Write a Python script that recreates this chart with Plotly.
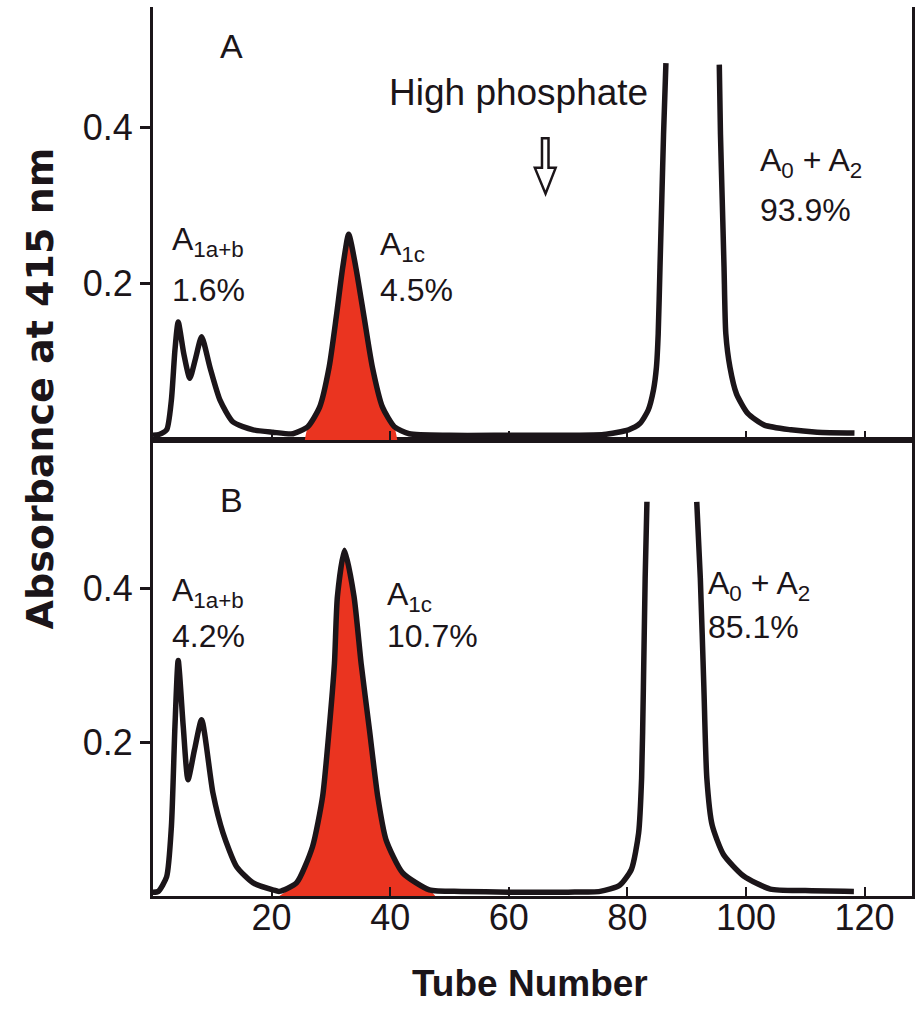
import plotly.graph_objects as go

# ---------------- data ----------------
# Panel A (normal)
tube_a = [0, 1, 2.3, 3.1, 3.7, 4.25, 5.2, 6.2, 7.2, 8.2, 9.6, 11.3, 13.5, 16.9, 20.2, 23.6,
          26.1, 28.1, 29.7, 30.9, 32.0, 33.0, 34.2, 35.6, 37.0, 38.7, 40.7, 43.2, 50, 60, 70, 76,
          80.2, 82.1, 83.5, 84.4, 84.9, 85.2, 85.5, 85.8, 86.1, 86.5, None,
          95.5, 95.7, 96.0, 96.3, 96.6, 97.3, 98.4, 100.3, 103.1, 107.6, 112, 118.3]
abs_a = [0.006, 0.007, 0.013, 0.051, 0.115, 0.151, 0.110, 0.079, 0.105, 0.132, 0.093, 0.051, 0.023, 0.013, 0.010, 0.008,
         0.017, 0.042, 0.093, 0.157, 0.221, 0.263, 0.221, 0.157, 0.093, 0.042, 0.017, 0.008, 0.006, 0.006, 0.006, 0.007,
         0.013, 0.021, 0.038, 0.064, 0.093, 0.136, 0.221, 0.306, 0.391, 0.482, None,
         0.480, 0.391, 0.306, 0.221, 0.136, 0.093, 0.059, 0.034, 0.019, 0.013, 0.010, 0.009]
# A1c shaded region, panel A
a1c_tube_a = [25.6, 26.1, 28.1, 29.7, 30.9, 32.0, 33.0, 34.2, 35.6, 37.0, 38.7, 40.7, 41.2]
a1c_abs_a = [0.0, 0.017, 0.042, 0.093, 0.157, 0.221, 0.263, 0.221, 0.157, 0.093, 0.042, 0.017, 0.0]

# Panel B (diabetic)
tube_b = [0, 0.9, 2.3, 3.1, 3.7, 4.25, 5.1, 5.9, 7.0, 8.2, 10.1, 11.8, 14.1, 16.9, 20.2, 21.3,
          24.2, 26.9, 28.6, 29.7, 30.6, 31.1, 32.3, 33.9, 35.1, 36.5, 37.9, 39.3, 42.1, 46.6, 52, 60, 70,
          75.4, 78.7, 80.7, 81.9, 82.4, 82.7, 83.0, 83.3, None,
          91.7, 92.3, 92.9, 93.4, 94.3, 96.2, 99.6, 104.1, 110, 118.2]
abs_b = [0.005, 0.006, 0.025, 0.090, 0.220, 0.306, 0.220, 0.151, 0.190, 0.229, 0.134, 0.082, 0.038, 0.017, 0.008, 0.006,
         0.017, 0.064, 0.129, 0.216, 0.302, 0.389, 0.449, 0.389, 0.302, 0.216, 0.129, 0.073, 0.030, 0.008, 0.006, 0.005, 0.005,
         0.006, 0.014, 0.035, 0.082, 0.153, 0.271, 0.413, 0.512, None,
         0.512, 0.413, 0.271, 0.153, 0.092, 0.054, 0.026, 0.009, 0.007, 0.006]
a1c_tube_b = [21.3, 24.2, 26.9, 28.6, 29.7, 30.6, 31.1, 32.3, 33.9, 35.1, 36.5, 37.9, 39.3, 42.1, 46.6, 47.6]
a1c_abs_b = [0.0, 0.017, 0.064, 0.129, 0.216, 0.302, 0.389, 0.449, 0.389, 0.302, 0.216, 0.129, 0.073, 0.030, 0.008, 0.0]

x_ticks = [20, 40, 60, 80, 100, 120]
y_ticks = [0.2, 0.4]
y_tick_text = ["0.2", "0.4"]

# ---------------- styling ----------------
INK = "#1b1519"
RED = "#EA3420"
FONT = "Liberation Sans"

L, R, T, B = 153, 3, 7, 115
W, H = 918, 1011
PW, PH = W - L - R, H - T - B
split = (896 - 440) / PH  # boundary between panels in paper coords


def px(x):
    return (x - L) / PW


def py(y):
    return (H - B - y) / PH


fig = go.Figure()

line_kw = dict(color=INK, width=5.5, shape="spline", smoothing=0.6)

# Panel A traces (x2/y2 = top)
fig.add_trace(go.Scatter(x=a1c_tube_a, y=a1c_abs_a, xaxis="x2", yaxis="y2", mode="lines",
                         line=dict(color=RED, width=0, shape="spline", smoothing=0.6),
                         fill="tozeroy", fillcolor=RED, hoverinfo="skip", showlegend=False))
fig.add_trace(go.Scatter(x=tube_a, y=abs_a, xaxis="x2", yaxis="y2", mode="lines",
                         line=line_kw, connectgaps=False, showlegend=False))
# Panel B traces (x/y = bottom)
fig.add_trace(go.Scatter(x=a1c_tube_b, y=a1c_abs_b, xaxis="x", yaxis="y", mode="lines",
                         line=dict(color=RED, width=0, shape="spline", smoothing=0.6),
                         fill="tozeroy", fillcolor=RED, hoverinfo="skip", showlegend=False))
fig.add_trace(go.Scatter(x=tube_b, y=abs_b, xaxis="x", yaxis="y", mode="lines",
                         line=line_kw, connectgaps=False, showlegend=False))

axis_common = dict(showgrid=False, zeroline=False, showline=True, linecolor=INK, linewidth=3)

fig.update_layout(
    width=W, height=H,
    margin=dict(l=L, r=R, t=T, b=B),
    paper_bgcolor="white", plot_bgcolor="white",
    showlegend=False,
    font=dict(family=FONT, color=INK),
    xaxis=dict(**axis_common, domain=[0, 1], range=[0, 128], anchor="y", mirror=True,
               tickmode="array", tickvals=x_ticks, ticks="inside", ticklen=9, tickwidth=2,
               tickcolor=INK, ticklabelstandoff=-12,
               tickfont=dict(size=36, family=FONT, color=INK)),
    yaxis=dict(**axis_common, domain=[0, split], range=[0, 456 / 770], anchor="x", mirror=True,
               tickmode="array", tickvals=y_ticks, ticktext=y_tick_text, ticks="outside",
               ticklen=10, tickwidth=2.5, tickcolor=INK,
               tickfont=dict(size=36, family=FONT, color=INK)),
    xaxis2=dict(**axis_common, domain=[0, 1], range=[0, 128], anchor="y2", matches="x",
                tickmode="array", tickvals=x_ticks, ticks="inside", ticklen=9, tickwidth=2,
                tickcolor=INK, showticklabels=False),
    yaxis2=dict(**axis_common, domain=[split, 1], range=[0, 433 / 782], anchor="x2", mirror=True,
                tickmode="array", tickvals=y_ticks, ticktext=y_tick_text, ticks="outside",
                ticklen=10, tickwidth=2.5, tickcolor=INK,
                tickfont=dict(size=36, family=FONT, color=INK)),
)


def note(text, x, y, size=32, xanchor="left", **kw):
    fig.add_annotation(text=text, x=px(x), y=py(y), xref="paper", yref="paper",
                       xanchor=xanchor, yanchor="middle", showarrow=False,
                       font=dict(size=size, family=FONT, color=INK), **kw)


# Panel A labels
note("A", 232, 46, size=34, xanchor="center")
note("High phosphate", 520, 92, size=37, xanchor="center")
note("A<sub>1a+b</sub>", 170, 242, size=32)
note("1.6%", 170, 290, size=32)
note("A<sub>1c</sub>", 379, 246, size=32)
note("4.5%", 379, 290, size=32)
note("A<sub>0</sub> + A<sub>2</sub>", 760, 162, size=32)
note("93.9%", 760, 210, size=32)

# Panel B labels
note("B", 232, 500, size=34, xanchor="center")
note("A<sub>1a+b</sub>", 170, 592, size=32)
note("4.2%", 170, 636, size=32)
note("A<sub>1c</sub>", 386, 596, size=32)
note("10.7%", 386, 636, size=32)
note("A<sub>0</sub> + A<sub>2</sub>", 708, 585, size=32)
note("85.1%", 708, 627, size=32)

# Axis titles
fig.add_annotation(text="<b>Absorbance at 415 nm</b>", x=px(40), y=py(388), xref="paper", yref="paper",
                   textangle=-90, showarrow=False, xanchor="center", yanchor="middle",
                   font=dict(size=38, family="DejaVu Sans", color=INK))
fig.add_annotation(text="<b>Tube Number</b>", x=px(531), y=py(984), xref="paper", yref="paper",
                   showarrow=False, xanchor="center", yanchor="middle",
                   font=dict(size=37, family=FONT, color=INK))

# Hollow "high phosphate" arrow (panel A coordinates)
fig.add_shape(type="path", xref="x2", yref="y2",
              path="M 65.6 0.386 L 66.7 0.386 L 66.7 0.348 L 67.9 0.348 L 66.2 0.315 "
                   "L 64.4 0.348 L 65.6 0.348 Z",
              line=dict(color=INK, width=2.5), fillcolor="white")

fig.write_html("out.html", config={"displayModeBar": False},
               post_script="document.body.style.margin='0';")
